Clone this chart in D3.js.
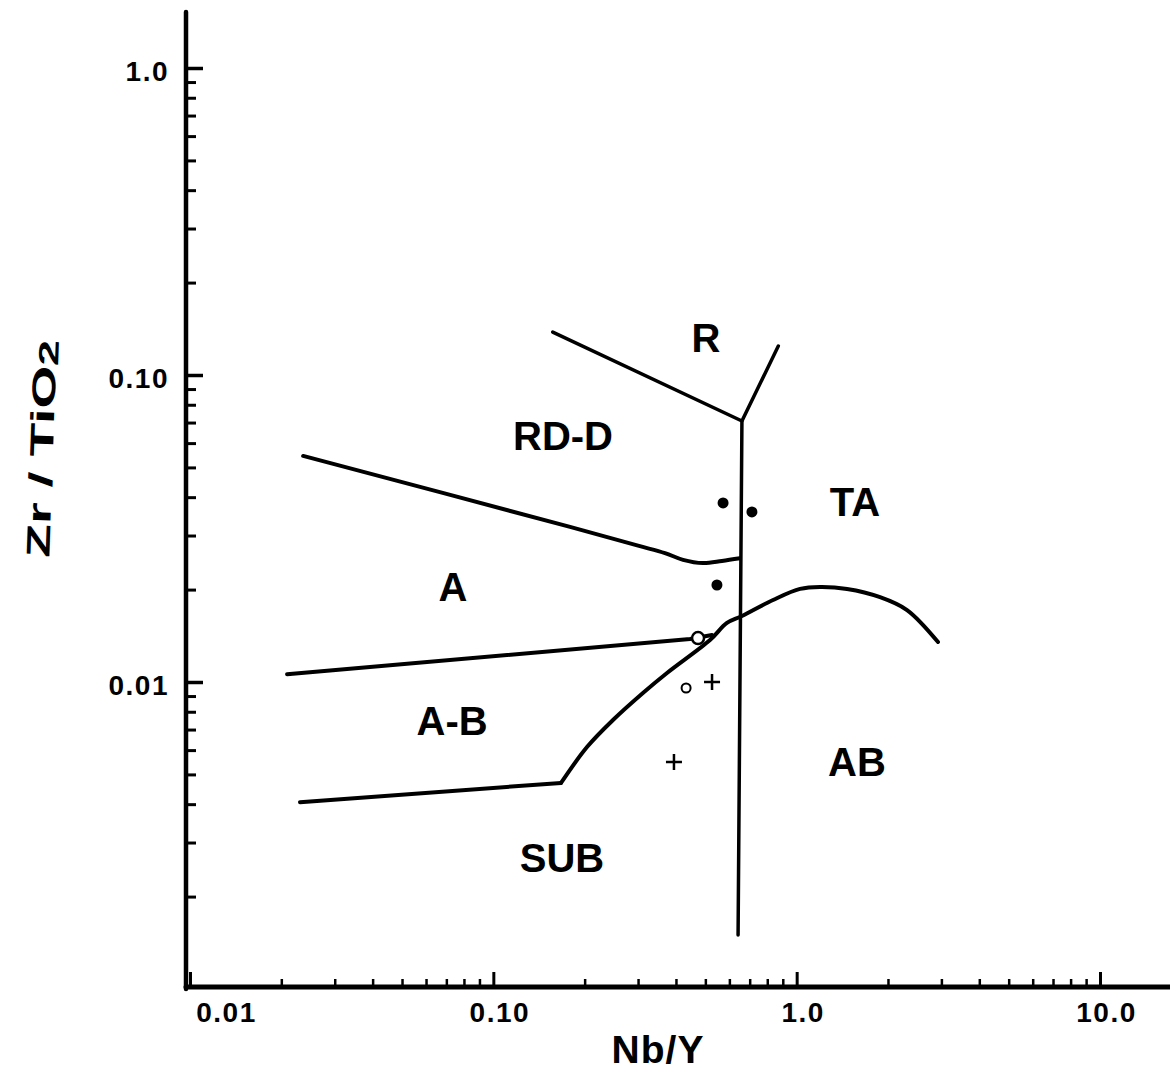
<!DOCTYPE html>
<html>
<head>
<meta charset="utf-8">
<script src="https://cdn.jsdelivr.net/npm/d3@7"></script>
<style>
	body { margin: 0; background: #fff; }
	svg text { font-family: "Liberation Sans", Arial, sans-serif; font-weight: bold; fill: #000; }
</style>
</head>
<body>
<div id="chart"></div>
<script>

///////////////////////////////////////////////////////////////////////////
//////////////////////////////// The data /////////////////////////////////
///////////////////////////////////////////////////////////////////////////

//Axis ticks (Nb/Y horizontal, Zr/TiO2 vertical)
var xMajor = [0.01, 0.1, 1, 10]
var xMajorLabels = ["0.01", "0.10", "1.0", "10.0"]
var xMinor = [0.02, 0.03, 0.04, 0.05, 0.06, 0.07, 0.08, 0.09,
	0.2, 0.3, 0.4, 0.5, 0.6, 0.7, 0.8, 0.9,
	2, 3, 4, 5, 6, 7, 8, 9]
var yMajor = [0.01, 0.1, 1]
var yMajorLabels = ["0.01", "0.10", "1.0"]
var yMinor = [0.002, 0.003, 0.004, 0.005, 0.006, 0.007, 0.008, 0.009,
	0.02, 0.03, 0.04, 0.05, 0.06, 0.07, 0.08, 0.09,
	0.2, 0.3, 0.4, 0.5, 0.6, 0.7, 0.8, 0.9]

//Field boundaries, [Nb/Y, Zr/TiO2]
var lineR = [[0.157, 0.138], [0.66, 0.0708], [0.87, 0.1243]]
var lineTA = [[0.66, 0.0708], [0.641, 0.0015]]
var lineRDD = [[0.0236, 0.0545], [0.179, 0.032], [0.30, 0.0278], [0.368, 0.0263], [0.422, 0.0250],
	[0.491, 0.0244], [0.567, 0.0248], [0.650, 0.0253]]
var lineAAB = [[0.0209, 0.0106], [0.445, 0.0138], [0.526, 0.01423]]
//straight foot of the SUB boundary, then its curved rise
var lineSUBfoot = [[0.02305, 0.00406], [0.1672, 0.00469]]
var lineSUB = [[0.1672, 0.00469], [0.2036, 0.00614], [0.248, 0.00752],
	[0.3113, 0.00921], [0.3737, 0.0107], [0.518, 0.0137], [0.589, 0.01557],
	[0.66, 0.0164], [0.836, 0.0185], [1.026, 0.0201],
	[1.194, 0.0204], [1.466, 0.0201], [1.883, 0.0189], [2.311, 0.01716], [2.924, 0.0135]]

//Samples
var filledPts = [[0.572, 0.0383], [0.712, 0.0358], [0.546, 0.0207]]
var openLarge = [[0.473, 0.0139]]
var openSmall = [[0.432, 0.00956]]
var crossPts = [[0.526, 0.0100], [0.394, 0.00549]]

//Field names and where they sit
var fieldNames = ["R", "RD-D", "TA", "A", "A-B", "AB", "SUB"]
var fieldAt = [[0.502, 0.132], [0.1697, 0.0635], [1.557, 0.0386], [0.0736, 0.0204],
	[0.0731, 0.00746], [1.581, 0.00549], [0.1684, 0.00268]]

createChart()

function createChart() {

	///////////////////////////////////////////////////////////////////////////
	//////////////////////////// Set up the svg ///////////////////////////////
	///////////////////////////////////////////////////////////////////////////

	var width = 1170
	var height = 1074

	var svg = d3.select("#chart").append("svg")
		.attr("width", width)
		.attr("height", height)

	var axisX0 = 186,
		axisY0 = 987

	var xScale = d3.scaleLog()
		.domain([0.01, 10])
		.range([190, 1100])

	var yScale = d3.scaleLog()
		.domain([0.001, 1])
		.range([989, 68])

	///////////////////////////////////////////////////////////////////////////
	//////////////////////////////// Axes /////////////////////////////////////
	///////////////////////////////////////////////////////////////////////////

	//minor ticks
	svg.append("g")
		.attr("transform", "translate(0," + axisY0 + ")")
		.call(d3.axisBottom(xScale).tickValues(xMinor).tickSize(-8).tickFormat(""))
		.call(g => g.select(".domain").remove())
		.selectAll("line").attr("stroke-width", 2.5)

	var xAx = svg.append("g")
		.attr("transform", "translate(0," + axisY0 + ")")
		.call(d3.axisBottom(xScale)
			.tickValues(xMajor)
			.tickSize(-15)
			.tickPadding(15)
			.tickFormat((d, i) => xMajorLabels[i]))
		.call(g => g.select(".domain").remove())
	xAx.selectAll("line").attr("stroke-width", 3)
	xAx.selectAll("text")
		.style("font-size", "28px")
		.style("letter-spacing", "1.5px")
		.attr("dx", (d, i) => i === 0 ? 36 : 6)

	svg.append("g")
		.attr("transform", "translate(" + axisX0 + ",0)")
		.call(d3.axisLeft(yScale).tickValues(yMinor).tickSize(-10).tickFormat(""))
		.call(g => g.select(".domain").remove())
		.selectAll("line").attr("stroke-width", 3)

	var yAx = svg.append("g")
		.attr("transform", "translate(" + axisX0 + ",0)")
		.call(d3.axisLeft(yScale)
			.tickValues(yMajor)
			.tickSize(-17)
			.tickPadding(17)
			.tickFormat((d, i) => yMajorLabels[i]))
		.call(g => g.select(".domain").remove())
	yAx.selectAll("line").attr("stroke-width", 3.5)
	yAx.selectAll("text")
		.style("font-size", "28px")
		.style("letter-spacing", "1.5px")
		.attr("dy", "0.45em")

	//the two heavy axis lines
	svg.append("line")
		.attr("x1", axisX0).attr("y1", 12)
		.attr("x2", axisX0).attr("y2", axisY0 + 2)
		.attr("stroke", "#000").attr("stroke-width", 4.5)
		.attr("stroke-linecap", "round")
	svg.append("line")
		.attr("x1", axisX0).attr("y1", axisY0)
		.attr("x2", width).attr("y2", axisY0)
		.attr("stroke", "#000").attr("stroke-width", 5)
		.attr("stroke-linecap", "round")

	//axis titles
	svg.append("text")
		.attr("x", 658)
		.attr("y", 1063)
		.attr("text-anchor", "middle")
		.style("font-size", "39px")
		.style("letter-spacing", "1px")
		.text("Nb/Y")

	var yTitle = svg.append("text")
		.attr("transform", "translate(53,449) rotate(-88)")
		.attr("text-anchor", "middle")
		.attr("textLength", 218)
		.attr("lengthAdjust", "spacingAndGlyphs")
		.style("font-size", "33px")
	yTitle.append("tspan").text("Zr / TiO")
	yTitle.append("tspan").attr("dy", 2).style("font-size", "28px").text("2")

	///////////////////////////////////////////////////////////////////////////
	///////////////////////////// Field boundaries ////////////////////////////
	///////////////////////////////////////////////////////////////////////////

	var straight = d3.line()
		.x(d => xScale(d[0]))
		.y(d => yScale(d[1]))

	var smooth = d3.line()
		.x(d => xScale(d[0]))
		.y(d => yScale(d[1]))
		.curve(d3.curveCatmullRom.alpha(0.5))

	var bounds = [
		{pts: lineR, gen: straight, w: 3.5},
		{pts: lineTA, gen: straight, w: 3.5},
		{pts: lineRDD, gen: smooth, w: 4},
		{pts: lineAAB, gen: straight, w: 4},
		{pts: lineSUBfoot, gen: straight, w: 4},
		{pts: lineSUB, gen: smooth, w: 4}
	]

	svg.selectAll(".bound")
		.data(bounds)
		.enter().append("path")
		.attr("class", "bound")
		.attr("d", d => d.gen(d.pts))
		.attr("fill", "none")
		.attr("stroke", "#000")
		.attr("stroke-width", d => d.w)
		.attr("stroke-linecap", "round")
		.attr("stroke-linejoin", "round")

	///////////////////////////////////////////////////////////////////////////
	///////////////////////////////// Samples /////////////////////////////////
	///////////////////////////////////////////////////////////////////////////

	svg.selectAll(".filled")
		.data(filledPts)
		.enter().append("circle")
		.attr("cx", d => xScale(d[0]))
		.attr("cy", d => yScale(d[1]))
		.attr("r", 5.5)
		.attr("fill", "#000")

	svg.selectAll(".openL")
		.data(openLarge)
		.enter().append("circle")
		.attr("cx", d => xScale(d[0]))
		.attr("cy", d => yScale(d[1]))
		.attr("r", 6)
		.attr("fill", "#fff")
		.attr("stroke", "#000")
		.attr("stroke-width", 2.5)

	svg.selectAll(".openS")
		.data(openSmall)
		.enter().append("circle")
		.attr("cx", d => xScale(d[0]))
		.attr("cy", d => yScale(d[1]))
		.attr("r", 4.5)
		.attr("fill", "#fff")
		.attr("stroke", "#000")
		.attr("stroke-width", 2)

	svg.selectAll(".cross")
		.data(crossPts)
		.enter().append("path")
		.attr("transform", d => "translate(" + xScale(d[0]) + "," + yScale(d[1]) + ")")
		.attr("d", "M-8,0H8M0,-8V8")
		.attr("stroke", "#000")
		.attr("stroke-width", 2.5)

	///////////////////////////////////////////////////////////////////////////
	////////////////////////////// Field labels ///////////////////////////////
	///////////////////////////////////////////////////////////////////////////

	svg.selectAll(".field")
		.data(fieldNames)
		.enter().append("text")
		.attr("class", "field")
		.attr("x", (d, i) => xScale(fieldAt[i][0]))
		.attr("y", (d, i) => yScale(fieldAt[i][1]))
		.attr("dy", "0.358em")
		.attr("text-anchor", "middle")
		.style("font-size", "40px")
		.text(d => d)

}//function createChart
</script>
</body>
</html>
